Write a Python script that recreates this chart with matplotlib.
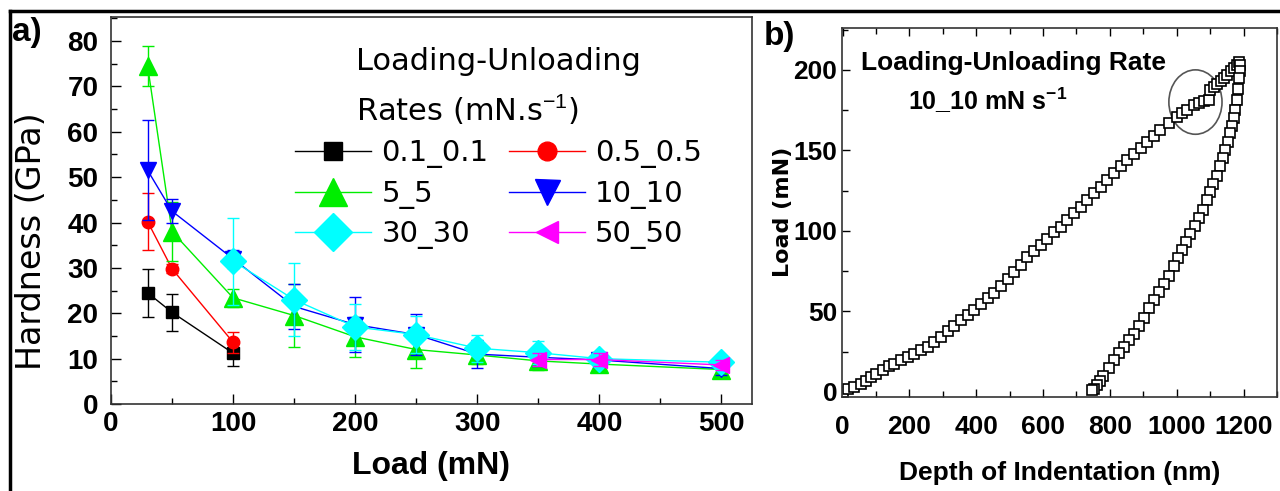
import numpy as np
import matplotlib
matplotlib.use("Agg")
import matplotlib.pyplot as plt
from matplotlib.patches import Ellipse
from matplotlib.lines import Line2D
from matplotlib.ticker import MultipleLocator

plt.rcParams['font.family'] = ['Liberation Sans', 'DejaVu Sans']
plt.rcParams['mathtext.fontset'] = 'custom'
plt.rcParams['mathtext.rm'] = 'Liberation Sans'
plt.rcParams['mathtext.bf'] = 'Liberation Sans:bold'

# ---- panel a : hardness vs load ----
rate_labels = ['0.1_0.1', '0.5_0.5', '5_5', '10_10', '30_30', '50_50']
rate_colors = ['black', '#ff0000', '#00ee00', '#0000ff', '#00ffff', '#ff00ff']
rate_markers = ['s', 'o', '^', 'v', 'D', '<']
rate_msize = [9, 9, 13, 12, 13, 11]

load_01 = [30, 50, 100]
hard_01 = [24.5, 20.2, 11.2]
err_01 = [5.3, 4.0, 2.8]

load_05 = [30, 50, 100]
hard_05 = [40.2, 29.8, 13.6]
err_05 = [6.3, 1.0, 2.3]

load_5 = [30, 50, 100, 150, 200, 250, 300, 350, 400, 500]
hard_5 = [74.5, 38.0, 23.4, 19.5, 14.8, 12.0, 10.8, 9.5, 8.8, 7.6]
err_5 = [4.3, 6.5, 2.0, 7.0, 4.4, 4.0, 2.0, 2.0, 1.8, 1.2]

load_10 = [30, 50, 100, 150, 200, 250, 300, 350, 400, 500]
hard_10 = [51.5, 42.5, 32.0, 21.5, 17.5, 15.3, 11.0, 10.3, 9.7, 7.8]
err_10 = [11.0, 2.7, 2.0, 5.0, 6.0, 4.5, 3.0, 2.0, 1.5, 1.5]

load_30 = [100, 150, 200, 250, 300, 350, 400, 500]
hard_30 = [31.5, 23.0, 17.0, 15.3, 12.3, 11.3, 10.0, 9.2]
err_30 = [9.6, 8.0, 5.0, 4.0, 3.0, 2.5, 1.5, 1.0]

load_50 = [350, 400, 500]
hard_50 = [9.8, 9.8, 8.6]
err_50 = [1.5, 1.5, 1.0]

# ---- panel b : load-depth curve (10_10 mN/s) ----
depth_load = [0, 15, 35, 55, 70, 86, 100, 120, 140, 155, 175, 195, 215, 235, 255, 275, 295, 315, 335, 354,
              374, 394, 414, 434, 454, 474, 494, 514, 534, 553, 573, 593, 613, 633, 653, 673, 693, 713, 733, 752,
              772, 792, 812, 832, 852, 872, 892, 912, 932, 951, 976, 1001, 1016, 1031, 1051, 1066, 1081, 1096, 1101, 1111,
              1121, 1131, 1141, 1151, 1161, 1171, 1181, 1186]
force_load = [0, 1.5, 3, 5, 7, 9.3, 11, 13.5, 16, 17.6, 19.5, 21.5, 23.5, 25.7, 28, 31, 34, 37.5, 41, 44.6,
              48, 51, 54.5, 58, 61.2, 65.5, 70, 74.5, 79, 84, 87.5, 91.5, 95, 99, 102.6, 106.5, 111, 115, 119, 123.4,
              127.5, 131.5, 136, 140, 144, 148, 151.5, 155.5, 159, 162.7, 167, 171, 173, 175, 178.3, 179.5, 180.5, 181.4, 187.6, 189.5,
              191.5, 193, 195, 197, 199, 201, 203, 205]
depth_unload = [1190, 1188, 1185, 1182, 1180, 1175, 1170, 1165, 1160, 1153, 1145, 1138, 1130, 1120, 1110, 1100, 1091, 1078,
                1066, 1054, 1041, 1028, 1016, 1003, 991, 976, 961, 946, 931, 916, 901, 886, 872, 857, 842, 827, 812, 796,
                780, 770, 760, 752, 747]
force_unload = [203, 199, 195, 188, 181, 175, 170, 165, 161, 155, 150, 145, 140, 134, 129, 124, 119, 113,
                108, 103, 98, 93, 88, 83, 78, 72, 67, 62, 57, 52, 46, 41, 36, 32, 28, 24, 20, 15,
                10, 7, 4, 2, 1]

fig = plt.figure(figsize=(12.8, 4.91), dpi=100)
W, H = 1280.0, 491.0

def px_axes(l, t, r, b):
    return fig.add_axes([l / W, 1 - b / H, (r - l) / W, (b - t) / H])

ax = px_axes(111, 17, 752, 404)
bx = px_axes(841.5, 28, 1277, 396.7)

series = [(load_01, hard_01, err_01), (load_05, hard_05, err_05), (load_5, hard_5, err_5),
          (load_10, hard_10, err_10), (load_30, hard_30, err_30), (load_50, hard_50, err_50)]
handles = []
for (x, y, e), lab, c, m, ms in zip(series, rate_labels, rate_colors, rate_markers, rate_msize):
    ax.errorbar(x, y, yerr=e, fmt='none', ecolor=c, elinewidth=1, capsize=4, capthick=1)
    h, = ax.plot(x, y, marker=m, color=c, ms=ms, lw=1, label=lab, mec=c)
    handles.append(h)

ax.set_xlim(0, 525)
ax.set_ylim(0, 85.3)
ax.xaxis.set_major_locator(MultipleLocator(100))
ax.xaxis.set_minor_locator(MultipleLocator(50))
ax.yaxis.set_major_locator(MultipleLocator(10))
ax.yaxis.set_minor_locator(MultipleLocator(5))
ax.tick_params(which='both', direction='in', labelsize=20)
ax.tick_params(which='major', length=7, width=1)
ax.tick_params(which='minor', length=4, width=1)
ax.tick_params(axis='y', pad=9)
ax.tick_params(axis='x', pad=5)
for lbl in ax.get_xticklabels() + ax.get_yticklabels():
    lbl.set_fontweight('bold')
for s in ax.spines.values():
    s.set_linewidth(1.2)
    s.set_color('#333333')
ax.set_xlabel('Load (mN)', fontsize=23, fontweight='bold', labelpad=10)
ax.set_ylabel('Hardness (GPa)', fontsize=24, family='DejaVu Sans')
ax.yaxis.set_label_coords(-0.098, 0.42)

# legend filled row by row like the original
order = [0, 2, 4, 1, 3, 5]
leg = ax.legend([handles[i] for i in order], [rate_labels[i] for i in order],
                ncol=2, loc='upper left', bbox_to_anchor=(0.265, 0.96), frameon=False,
                prop={'family': 'DejaVu Sans', 'size': 21},
                title='Loading-Unloading\nRates (mN.s$^{-1}$)',
                title_fontproperties={'family': 'DejaVu Sans', 'size': 22},
                markerscale=1.5, handlelength=2.6, handletextpad=0.35, columnspacing=0.7,
                labelspacing=0.4, borderpad=0)
leg.get_title().set_linespacing(1.55)

fig.text(12 / W, 1 - 33 / H, 'a)', fontsize=24, fontweight='bold', va='center', ha='left')

# panel b
bx.plot(depth_load, force_load, 's', mfc='white', mec='black', ms=7.5, mew=1.2, ls='none')
bx.plot(depth_unload, force_unload, 's', mfc='white', mec='black', ms=7.5, mew=1.2, ls='none')
bx.add_patch(Ellipse((1056, 180), 159, 40, fill=False, ec='#555555', lw=1.2))
bx.set_xlim(-3, 1300)
bx.set_ylim(-3, 226)
bx.xaxis.set_major_locator(MultipleLocator(200))
bx.xaxis.set_minor_locator(MultipleLocator(100))
bx.yaxis.set_major_locator(MultipleLocator(50))
bx.yaxis.set_minor_locator(MultipleLocator(25))
bx.tick_params(which='both', direction='in', labelsize=19, top=True)
bx.tick_params(which='major', length=6, width=1)
bx.tick_params(which='minor', length=4, width=1)
bx.tick_params(axis='x', pad=13)
bx.tick_params(axis='y', pad=3)
for lbl in bx.get_xticklabels() + bx.get_yticklabels():
    lbl.set_fontweight('bold')
for s in bx.spines.values():
    s.set_linewidth(1.2)
    s.set_color('#333333')
bx.set_xlabel('Depth of Indentation (nm)', fontsize=19, fontweight='bold', labelpad=16)
bx.set_ylabel('Load (mN)', fontsize=16, fontweight='bold', family='DejaVu Sans', labelpad=0)
bx.text(512, 204, 'Loading-Unloading Rate', fontsize=19, fontweight='bold', ha='center', va='center')
bx.text(435, 181, r'10_10 mN s$^{\mathbf{-1}}$', fontsize=18, fontweight='bold', ha='center', va='center')
fig.text(764 / W, 1 - 36 / H, 'b)', fontsize=24, fontweight='bold', va='center', ha='left')

# outer frame lines (top and left)
fig.add_artist(Line2D([10 / W, 1], [1 - 11 / H, 1 - 11 / H], transform=fig.transFigure, color='black', lw=2.5))
fig.add_artist(Line2D([10 / W, 10 / W], [0, 1 - 11 / H], transform=fig.transFigure, color='black', lw=2.5))

fig.savefig('out.png', dpi=100)
